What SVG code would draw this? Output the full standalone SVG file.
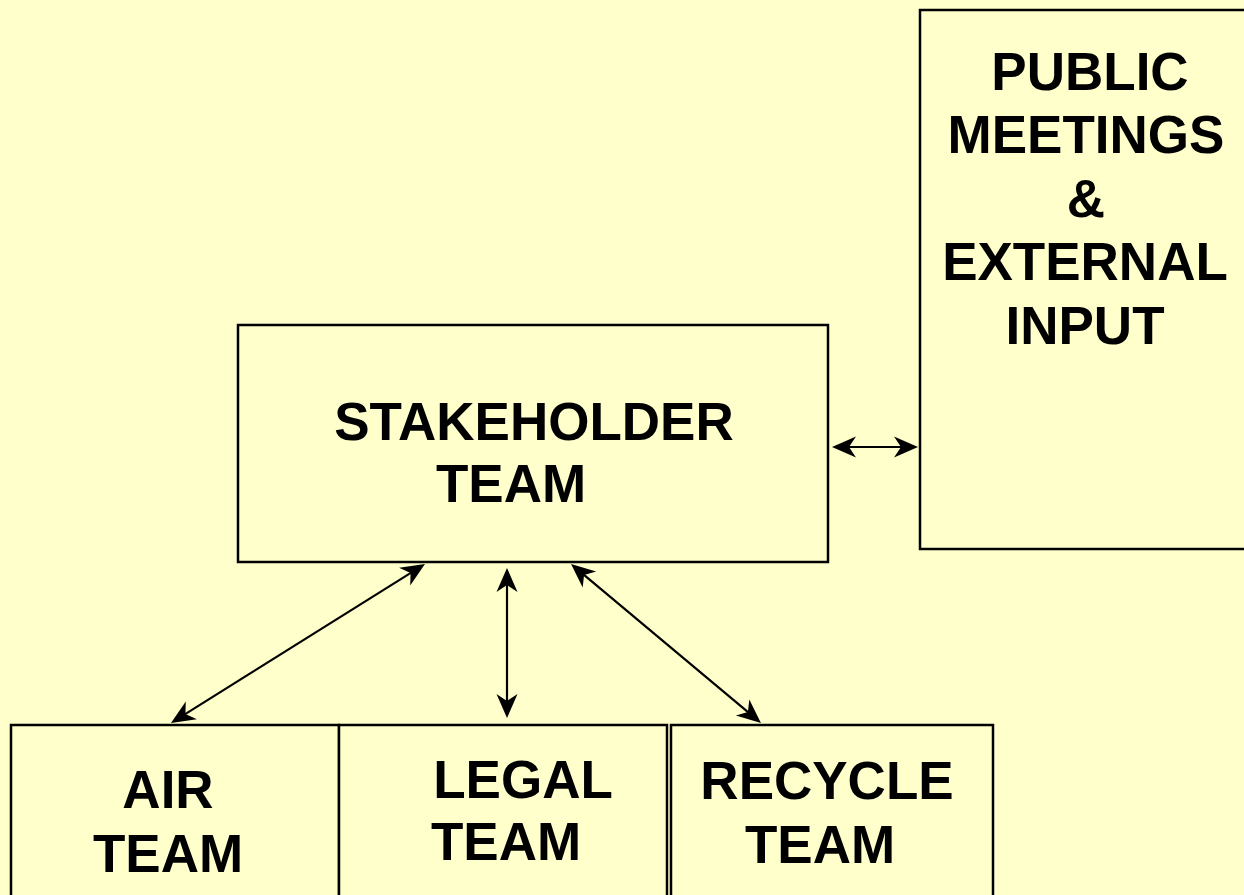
<svg xmlns="http://www.w3.org/2000/svg" width="1244" height="895" viewBox="0 0 1244 895">
  <style>
    .box { fill: #FFFFCC; stroke: #000000; stroke-width: 2.5; }
    .label { font-family: "Liberation Sans", Arial, Helvetica, sans-serif; font-weight: bold; font-size: 53px; fill: #000000; text-anchor: middle; }
    .link { fill: none; stroke: #000000; stroke-width: 2.2; marker-start: url(#head); marker-end: url(#head); }
  </style>
  <defs>
    <!-- swept-back arrowhead, tip 4px beyond the line end -->
    <marker id="head" markerUnits="userSpaceOnUse" viewBox="-22 -12 28 24" refX="0" refY="0" markerWidth="28" markerHeight="24" orient="auto-start-reverse">
      <path d="M4,0 L-20,-10.5 L-13,0 L-20,10.5 Z" fill="#000000"/>
    </marker>
  </defs>

  <rect x="0" y="0" width="1244" height="895" fill="#FFFFCC"/>

  <g id="public-meetings">
    <rect class="box" x="920" y="10" width="340" height="539"/>
    <text class="label" x="1090" y="90">PUBLIC</text>
    <text class="label" x="1086" y="153">MEETINGS</text>
    <text class="label" x="1086" y="217">&amp;</text>
    <text class="label" x="1085" y="280">EXTERNAL</text>
    <text class="label" x="1085" y="344">INPUT</text>
  </g>

  <g id="stakeholder-team">
    <rect class="box" x="238" y="325" width="590" height="237"/>
    <text class="label" x="534" y="440">STAKEHOLDER</text>
    <text class="label" x="511" y="502">TEAM</text>
  </g>

  <g id="air-team">
    <rect class="box" x="11" y="725" width="328" height="200"/>
    <text class="label" x="168" y="808">AIR</text>
    <text class="label" x="168" y="872">TEAM</text>
  </g>

  <g id="legal-team">
    <rect class="box" x="339" y="725" width="328" height="200"/>
    <text class="label" x="523" y="798">LEGAL</text>
    <text class="label" x="506" y="860">TEAM</text>
  </g>

  <g id="recycle-team">
    <rect class="box" x="671" y="725" width="322" height="200"/>
    <text class="label" x="827" y="799">RECYCLE</text>
    <text class="label" x="820" y="863">TEAM</text>
  </g>

  <g id="connectors">
    <line class="link" x1="421.6" y1="566.1" x2="174.4" y2="720.9"/>
    <line class="link" x1="507" y1="572" x2="507" y2="714"/>
    <line class="link" x1="574.1" y1="566.6" x2="757.9" y2="720.4"/>
    <line class="link" x1="836" y1="447" x2="914" y2="447"/>
  </g>
</svg>
